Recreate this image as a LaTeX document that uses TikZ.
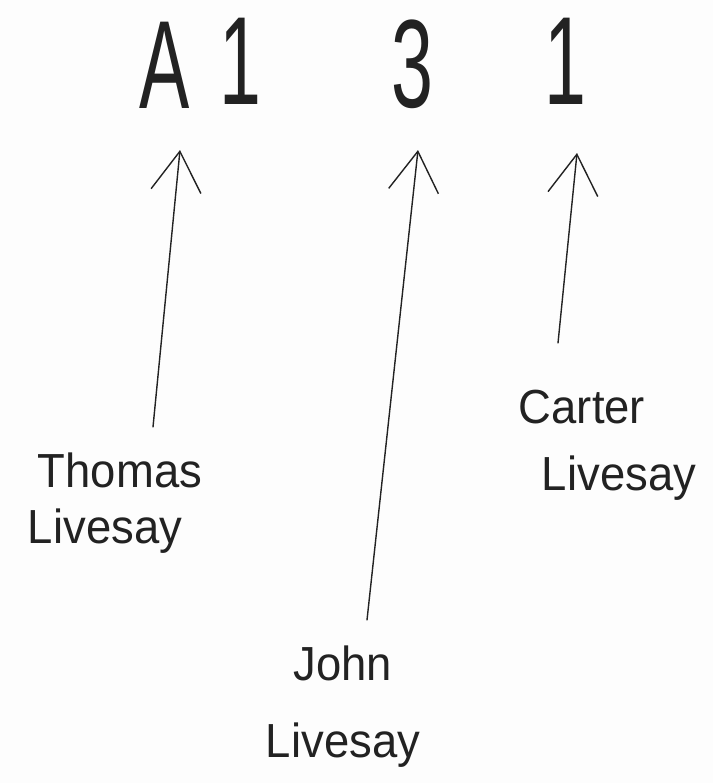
\documentclass[tikz,border=0pt]{standalone}
\usepackage{fontspec}
\setmainfont{Liberation Sans}
\usetikzlibrary{arrows.meta}
\definecolor{ink}{HTML}{222222}
\definecolor{paper}{HTML}{FDFDFD}
\tikzset{
  big/.style={anchor=base, inner sep=0pt, text=ink, font=\fontsize{126}{126}\selectfont, xscale=0.6},
  lbl/.style={anchor=base, inner sep=0pt, text=ink, font=\fontsize{48}{48}\selectfont, xscale=0.95},
  arr/.style={draw=ink, line width=1.4bp, line cap=round, -{Straight Barb[length=40bp, width=50bp, line width=1.4bp]}}
}
\begin{document}
\begin{tikzpicture}[x=1bp, y=-1bp]
  \fill[paper] (0,0) rectangle (713,783);
  \useasboundingbox (0,0) rectangle (713,783);
  % top code
  \node[big] (A) at (165,108) {A};
  \node[big] (one) at (240,104) {1};
  \node[big] (three) at (412,107) {3};
  \node[big] (onec) at (565,104) {1};
  % labels
  \node[lbl] (thomas) at (120,487) {Thomas};
  \node[lbl] (thomasl) at (105,543) {Livesay};
  \node[lbl] (john) at (343,680) {John};
  \node[lbl] (johnl) at (343,757) {Livesay};
  \node[lbl] (carter) at (582,423) {Carter};
  \node[lbl] (carterl) at (619,490) {Livesay};
  % arrow ends
  \coordinate (t0) at (153,427);
  \coordinate (t1) at (180,150);
  \coordinate (j0) at (367,620);
  \coordinate (j1) at (418,150);
  \coordinate (c0) at (558,343);
  \coordinate (c1) at (577,153);
  \draw[arr] (t0) -- (t1);
  \draw[arr] (j0) -- (j1);
  \draw[arr] (c0) -- (c1);
\end{tikzpicture}
\end{document}
